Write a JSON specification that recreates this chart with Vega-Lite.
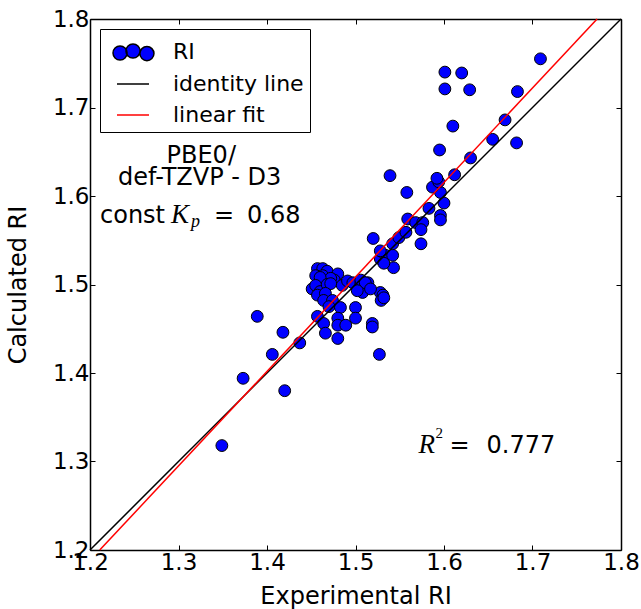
{
  "$schema": "https://vega.github.io/schema/vega-lite/v6.json",
  "width": 531,
  "height": 531,
  "autosize": "none",
  "padding": {"left": 90, "top": 19, "right": 20, "bottom": 59},
  "background": "white",
  "data": {"values": [{}]},
  "datasets": {
    "points": [
      {"series": "RI", "experimental": 1.349, "calculated": 1.318},
      {"series": "RI", "experimental": 1.373, "calculated": 1.394},
      {"series": "RI", "experimental": 1.389, "calculated": 1.464},
      {"series": "RI", "experimental": 1.406, "calculated": 1.421},
      {"series": "RI", "experimental": 1.418, "calculated": 1.446},
      {"series": "RI", "experimental": 1.420, "calculated": 1.380},
      {"series": "RI", "experimental": 1.437, "calculated": 1.434},
      {"series": "RI", "experimental": 1.457, "calculated": 1.464},
      {"series": "RI", "experimental": 1.457, "calculated": 1.518},
      {"series": "RI", "experimental": 1.463, "calculated": 1.518},
      {"series": "RI", "experimental": 1.468, "calculated": 1.515},
      {"series": "RI", "experimental": 1.455, "calculated": 1.510},
      {"series": "RI", "experimental": 1.463, "calculated": 1.510},
      {"series": "RI", "experimental": 1.480, "calculated": 1.512},
      {"series": "RI", "experimental": 1.476, "calculated": 1.505},
      {"series": "RI", "experimental": 1.472, "calculated": 1.507},
      {"series": "RI", "experimental": 1.460, "calculated": 1.508},
      {"series": "RI", "experimental": 1.451, "calculated": 1.495},
      {"series": "RI", "experimental": 1.455, "calculated": 1.499},
      {"series": "RI", "experimental": 1.460, "calculated": 1.492},
      {"series": "RI", "experimental": 1.457, "calculated": 1.488},
      {"series": "RI", "experimental": 1.468, "calculated": 1.500},
      {"series": "RI", "experimental": 1.472, "calculated": 1.501},
      {"series": "RI", "experimental": 1.485, "calculated": 1.499},
      {"series": "RI", "experimental": 1.491, "calculated": 1.504},
      {"series": "RI", "experimental": 1.497, "calculated": 1.502},
      {"series": "RI", "experimental": 1.506, "calculated": 1.501},
      {"series": "RI", "experimental": 1.514, "calculated": 1.502},
      {"series": "RI", "experimental": 1.508, "calculated": 1.491},
      {"series": "RI", "experimental": 1.528, "calculated": 1.491},
      {"series": "RI", "experimental": 1.531, "calculated": 1.488},
      {"series": "RI", "experimental": 1.529, "calculated": 1.482},
      {"series": "RI", "experimental": 1.466, "calculated": 1.490},
      {"series": "RI", "experimental": 1.464, "calculated": 1.482},
      {"series": "RI", "experimental": 1.474, "calculated": 1.482},
      {"series": "RI", "experimental": 1.470, "calculated": 1.475},
      {"series": "RI", "experimental": 1.483, "calculated": 1.474},
      {"series": "RI", "experimental": 1.500, "calculated": 1.474},
      {"series": "RI", "experimental": 1.500, "calculated": 1.462},
      {"series": "RI", "experimental": 1.464, "calculated": 1.456},
      {"series": "RI", "experimental": 1.480, "calculated": 1.462},
      {"series": "RI", "experimental": 1.480, "calculated": 1.454},
      {"series": "RI", "experimental": 1.489, "calculated": 1.454},
      {"series": "RI", "experimental": 1.466, "calculated": 1.445},
      {"series": "RI", "experimental": 1.480, "calculated": 1.439},
      {"series": "RI", "experimental": 1.519, "calculated": 1.456},
      {"series": "RI", "experimental": 1.519, "calculated": 1.452},
      {"series": "RI", "experimental": 1.527, "calculated": 1.421},
      {"series": "RI", "experimental": 1.506, "calculated": 1.505},
      {"series": "RI", "experimental": 1.511, "calculated": 1.502},
      {"series": "RI", "experimental": 1.502, "calculated": 1.493},
      {"series": "RI", "experimental": 1.517, "calculated": 1.495},
      {"series": "RI", "experimental": 1.532, "calculated": 1.485},
      {"series": "RI", "experimental": 1.528, "calculated": 1.529},
      {"series": "RI", "experimental": 1.534, "calculated": 1.533},
      {"series": "RI", "experimental": 1.542, "calculated": 1.533},
      {"series": "RI", "experimental": 1.543, "calculated": 1.519},
      {"series": "RI", "experimental": 1.532, "calculated": 1.524},
      {"series": "RI", "experimental": 1.520, "calculated": 1.552},
      {"series": "RI", "experimental": 1.528, "calculated": 1.538},
      {"series": "RI", "experimental": 1.542, "calculated": 1.546},
      {"series": "RI", "experimental": 1.549, "calculated": 1.553},
      {"series": "RI", "experimental": 1.557, "calculated": 1.559},
      {"series": "RI", "experimental": 1.559, "calculated": 1.574},
      {"series": "RI", "experimental": 1.568, "calculated": 1.570},
      {"series": "RI", "experimental": 1.576, "calculated": 1.570},
      {"series": "RI", "experimental": 1.574, "calculated": 1.562},
      {"series": "RI", "experimental": 1.574, "calculated": 1.546},
      {"series": "RI", "experimental": 1.583, "calculated": 1.586},
      {"series": "RI", "experimental": 1.596, "calculated": 1.578},
      {"series": "RI", "experimental": 1.596, "calculated": 1.573},
      {"series": "RI", "experimental": 1.600, "calculated": 1.592},
      {"series": "RI", "experimental": 1.596, "calculated": 1.604},
      {"series": "RI", "experimental": 1.587, "calculated": 1.610},
      {"series": "RI", "experimental": 1.594, "calculated": 1.616},
      {"series": "RI", "experimental": 1.592, "calculated": 1.620},
      {"series": "RI", "experimental": 1.612, "calculated": 1.624},
      {"series": "RI", "experimental": 1.558, "calculated": 1.604},
      {"series": "RI", "experimental": 1.539, "calculated": 1.623},
      {"series": "RI", "experimental": 1.595, "calculated": 1.652},
      {"series": "RI", "experimental": 1.630, "calculated": 1.643},
      {"series": "RI", "experimental": 1.610, "calculated": 1.679},
      {"series": "RI", "experimental": 1.655, "calculated": 1.664},
      {"series": "RI", "experimental": 1.682, "calculated": 1.660},
      {"series": "RI", "experimental": 1.669, "calculated": 1.686},
      {"series": "RI", "experimental": 1.683, "calculated": 1.718},
      {"series": "RI", "experimental": 1.709, "calculated": 1.755},
      {"series": "RI", "experimental": 1.601, "calculated": 1.740},
      {"series": "RI", "experimental": 1.620, "calculated": 1.739},
      {"series": "RI", "experimental": 1.601, "calculated": 1.721},
      {"series": "RI", "experimental": 1.629, "calculated": 1.720}
    ],
    "lines": [
      {"series": "identity line", "experimental": 1.2, "calculated": 1.2},
      {"series": "identity line", "experimental": 1.8, "calculated": 1.8},
      {"series": "linear fit", "experimental": 1.211, "calculated": 1.2},
      {"series": "linear fit", "experimental": 1.773, "calculated": 1.8}
    ]
  },
  "config": {
    "view": {"stroke": null},
    "font": "DejaVu Sans",
    "axis": {
      "labelFont": "DejaVu Sans",
      "labelFontSize": 23,
      "labelColor": "black",
      "titleFont": "DejaVu Sans",
      "titleFontSize": 24,
      "titleFontWeight": "normal",
      "titleColor": "black",
      "domainColor": "black",
      "domainWidth": 1.5,
      "tickColor": "black",
      "tickSize": -5,
      "tickWidth": 1,
      "grid": false,
      "labelFlush": false,
      "labelOverlap": false,
      "labelBound": false
    },
    "legend": {
      "orient": "top-left",
      "offset": 10,
      "strokeColor": "black",
      "fillColor": "white",
      "padding": 6,
      "symbolSize": 1024,
      "symbolOffset": 10,
      "symbolStrokeWidth": 1.5,
      "symbolOpacity": 1,
      "labelOffset": 23,
      "labelFontSize": 22,
      "labelFont": "DejaVu Sans",
      "labelColor": "black",
      "rowPadding": 3,
      "cornerRadius": 0
    }
  },
  "layer": [
    {
      "data": {"name": "points"},
      "mark": {"type": "point", "filled": true, "size": 140, "strokeWidth": 1, "opacity": 1, "shape": "circle"},
      "encoding": {
        "x": {
          "field": "experimental", "type": "quantitative",
          "scale": {"domain": [1.2, 1.8], "nice": false, "zero": false},
          "axis": {"orient": "bottom", "title": "Experimental RI", "values": [1.2, 1.3, 1.4, 1.5, 1.6, 1.7, 1.8], "format": ".1f", "labelPadding": 6, "titlePadding": 10}
        },
        "y": {
          "field": "calculated", "type": "quantitative",
          "scale": {"domain": [1.2, 1.8], "nice": false, "zero": false},
          "axis": {"orient": "left", "title": "Calculated RI", "values": [1.2, 1.3, 1.4, 1.5, 1.6, 1.7, 1.8], "format": ".1f", "labelPadding": 6, "titlePadding": 22}
        },
        "fill": {
          "field": "series", "type": "nominal",
          "scale": {"domain": ["RI", "identity line", "linear fit"], "range": ["blue", "transparent", "transparent"]},
          "legend": {"title": null}
        },
        "stroke": {
          "field": "series", "type": "nominal",
          "scale": {"domain": ["RI", "identity line", "linear fit"], "range": ["black", "black", "red"]},
          "legend": {"title": null}
        }
      }
    },
    {
      "data": {"name": "lines"},
      "mark": {"type": "line", "strokeWidth": 1.5},
      "encoding": {
        "x": {"field": "experimental", "type": "quantitative", "axis": {"orient": "top", "labels": false, "title": null, "values": [1.2, 1.3, 1.4, 1.5, 1.6, 1.7, 1.8]}},
        "y": {"field": "calculated", "type": "quantitative", "axis": {"orient": "right", "labels": false, "title": null, "values": [1.2, 1.3, 1.4, 1.5, 1.6, 1.7, 1.8]}},
        "stroke": {"field": "series", "type": "nominal", "legend": {"title": null}}
      }
    },
    {
      "data": {"name": "lines"},
      "transform": [{"filter": "false"}],
      "mark": {"type": "point", "filled": true, "opacity": 1},
      "encoding": {
        "shape": {
          "field": "series", "type": "nominal",
          "scale": {"domain": ["RI", "identity line", "linear fit"], "range": ["M -1.25 0.06 A 0.44 0.44 0 1 1 -0.37 0.06 A 0.44 0.44 0 1 1 -1.25 0.06 Z M -0.44 -0.06 A 0.44 0.44 0 1 1 0.44 -0.06 A 0.44 0.44 0 1 1 -0.44 -0.06 Z M 0.43 0.1 A 0.44 0.44 0 1 1 1.31 0.1 A 0.44 0.44 0 1 1 0.43 0.1 Z", "M -1 0 L 1 0", "M -1 0 L 1 0"]},
          "legend": {"title": null}
        },
        "fill": {"field": "series", "type": "nominal", "legend": {"title": null}},
        "stroke": {"field": "series", "type": "nominal", "legend": {"title": null}}
      }
    },
    {
      "mark": {"type": "text", "text": "PBE0/", "align": "center", "baseline": "alphabetic", "fontSize": 24, "font": "DejaVu Sans", "color": "black"},
      "encoding": {"x": {"datum": 1.3257, "type": "quantitative", "axis": null}, "y": {"datum": 1.637, "type": "quantitative", "axis": null}}
    },
    {
      "mark": {"type": "text", "text": "def-TZVP - D3", "align": "center", "baseline": "alphabetic", "fontSize": 24, "font": "DejaVu Sans", "color": "black"},
      "encoding": {"x": {"datum": 1.324, "type": "quantitative", "axis": null}, "y": {"datum": 1.612, "type": "quantitative", "axis": null}}
    },
    {
      "mark": {"type": "text", "text": "const", "align": "left", "baseline": "alphabetic", "fontSize": 24, "font": "DejaVu Sans", "color": "black"},
      "encoding": {"x": {"datum": 1.2113, "type": "quantitative", "axis": null}, "y": {"datum": 1.57, "type": "quantitative", "axis": null}}
    },
    {
      "mark": {"type": "text", "text": "K", "align": "left", "baseline": "alphabetic", "dx": 71, "fontSize": 27, "font": "Liberation Serif", "fontStyle": "italic", "color": "black"},
      "encoding": {"x": {"datum": 1.2113, "type": "quantitative", "axis": null}, "y": {"datum": 1.57, "type": "quantitative", "axis": null}}
    },
    {
      "mark": {"type": "text", "text": "p", "align": "left", "baseline": "alphabetic", "dx": 91, "dy": 4, "fontSize": 18, "font": "Liberation Serif", "fontStyle": "italic", "color": "black"},
      "encoding": {"x": {"datum": 1.2113, "type": "quantitative", "axis": null}, "y": {"datum": 1.57, "type": "quantitative", "axis": null}}
    },
    {
      "mark": {"type": "text", "text": "=", "align": "left", "baseline": "alphabetic", "dx": 114, "fontSize": 24, "font": "DejaVu Sans", "color": "black"},
      "encoding": {"x": {"datum": 1.2113, "type": "quantitative", "axis": null}, "y": {"datum": 1.57, "type": "quantitative", "axis": null}}
    },
    {
      "mark": {"type": "text", "text": "0.68", "align": "left", "baseline": "alphabetic", "dx": 147, "fontSize": 24, "font": "DejaVu Sans", "color": "black"},
      "encoding": {"x": {"datum": 1.2113, "type": "quantitative", "axis": null}, "y": {"datum": 1.57, "type": "quantitative", "axis": null}}
    },
    {
      "mark": {"type": "text", "text": "R", "align": "left", "baseline": "alphabetic", "fontSize": 27, "font": "Liberation Serif", "fontStyle": "italic", "color": "black"},
      "encoding": {"x": {"datum": 1.5713, "type": "quantitative", "axis": null}, "y": {"datum": 1.3098, "type": "quantitative", "axis": null}}
    },
    {
      "mark": {"type": "text", "text": "2", "align": "left", "baseline": "alphabetic", "dx": 17, "dy": -15, "fontSize": 15, "font": "Liberation Serif", "color": "black"},
      "encoding": {"x": {"datum": 1.5713, "type": "quantitative", "axis": null}, "y": {"datum": 1.3098, "type": "quantitative", "axis": null}}
    },
    {
      "mark": {"type": "text", "text": "=", "align": "left", "baseline": "alphabetic", "dx": 31, "fontSize": 24, "font": "DejaVu Sans", "color": "black"},
      "encoding": {"x": {"datum": 1.5713, "type": "quantitative", "axis": null}, "y": {"datum": 1.3098, "type": "quantitative", "axis": null}}
    },
    {
      "mark": {"type": "text", "text": "0.777", "align": "left", "baseline": "alphabetic", "dx": 68, "fontSize": 24, "font": "DejaVu Sans", "color": "black"},
      "encoding": {"x": {"datum": 1.5713, "type": "quantitative", "axis": null}, "y": {"datum": 1.3098, "type": "quantitative", "axis": null}}
    }
  ],
  "resolve": {"axis": {"x": "independent", "y": "independent"}}
}
